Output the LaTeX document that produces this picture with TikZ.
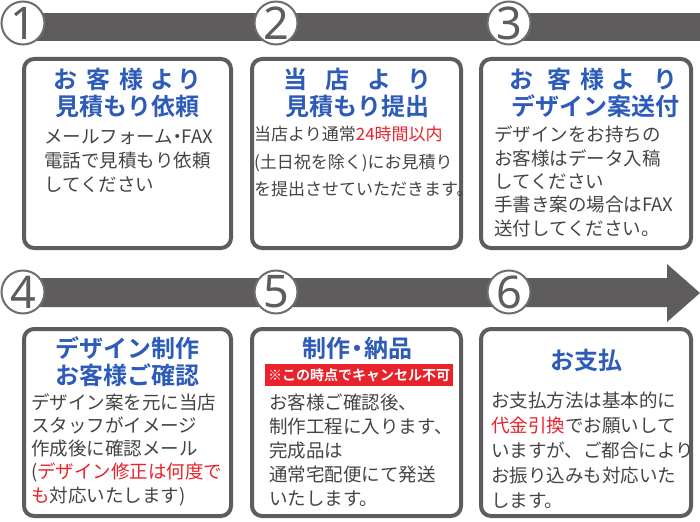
\documentclass[tikz,border=0pt]{standalone}
\usepackage{fontspec}
\setmainfont{Noto Sans CJK JP}[BoldFont={Noto Sans CJK JP Bold}]
\newfontfamily\numfont{Noto Sans}
\definecolor{barg}{HTML}{5E5C5D}
\definecolor{ttlblue}{HTML}{2D5BB9}
\definecolor{txtg}{HTML}{444444}
\definecolor{redc}{HTML}{E8232B}
\newcommand{\ndot}{\kern-5pt・\kern-5pt}
\tikzset{
  stepbox/.style={draw=barg, line width=4pt, rounded corners=10pt, fill=white, inner sep=0pt},
  numc/.style={circle, draw=barg!90, line width=2pt, fill=white, minimum size=43pt, inner sep=0pt,
    font=\numfont\fontsize{45}{45}\selectfont, text=barg},
  ttl/.style={font=\bfseries\fontsize{24}{24}\selectfont, text=ttlblue, inner sep=0pt, anchor=base},
  body/.style={font=\fontsize{18.5}{18.5}\selectfont, text=txtg, inner sep=0pt, anchor=base west},
  bodys/.style={font=\fontsize{17}{17}\selectfont, text=txtg, inner sep=0pt, anchor=base west}
}
\begin{document}
\begin{tikzpicture}[x=1pt,y=-1pt]
\useasboundingbox (0,0) rectangle (700,521);
\fill[white] (0,0) rectangle (700,521);
% bars
\fill[barg] (23,13) rectangle (700,41);
\fill[barg] (23,278) -- (667,278) -- (667,264) -- (700,293) -- (667,322) -- (667,307) -- (23,307) -- cycle;
% number circles
\node[numc] (n1) at (23,23) {1};
\node[numc] (n2) at (276,23) {2};
\node[numc] (n3) at (509,23) {3};
\node[numc] (n4) at (23,292) {4};
\node[numc] (n5) at (276,292) {5};
\node[numc] (n6) at (509,292) {6};
% boxes
\node[stepbox, minimum width=207pt, minimum height=189pt] (box1) at (127.5,153.5) {};
\node[stepbox, minimum width=209pt, minimum height=189pt] (box2) at (356.5,153.5) {};
\node[stepbox, minimum width=210pt, minimum height=189pt] (box3) at (586,153.5) {};
\node[stepbox, minimum width=207pt, minimum height=187pt] (box4) at (127.5,422.5) {};
\node[stepbox, minimum width=209pt, minimum height=187pt] (box5) at (356.5,422.5) {};
\node[stepbox, minimum width=210pt, minimum height=187pt] (box6) at (586,422.5) {};
% titles
\node[ttl] (t1a) at (127.5,89) {お\hspace{9pt}客\hspace{9pt}様\hspace{8pt}よ\hspace{3pt}り};
\node[ttl] (t1b) at (127.5,116) {見積もり依頼};
\node[ttl] (t2a) at (357.5,89) {当\hspace{18pt}店\hspace{18pt}よ\hspace{16pt}り};
\node[ttl] (t2b) at (357.5,116) {見積もり提出};
\node[ttl] (t3a) at (593,89) {お\hspace{14pt}客\hspace{9pt}様\hspace{8pt}よ\hspace{17pt}り};
\node[ttl] (t3b) at (595,116) {デザイン案送付};
\node[ttl] (t4a) at (127.5,357) {デザイン制作};
\node[ttl] (t4b) at (127.5,384) {お客様ご確認};
\node[ttl] (t5a) at (357.5,357) {制作\ndot 納品};
\node[ttl] (t6a) at (586,369) {お支払};
% cancel label
\node[fill=redc, minimum width=188pt, minimum height=22pt, inner sep=0pt, text=white,
  font=\bfseries\fontsize{14}{14}\selectfont] (cancel) at (359,375) {※この時点でキャンセル不可};
% bodies
\foreach \t [count=\i] in {メールフォーム\ndot FAX, 電話で見積もり依頼, してください}
  \node[body] (b1-\i) at ({44},{144+24*(\i-1)}) {\t};
\foreach \t [count=\i] in {{当店より通常\textcolor{redc}{24時間以内}}, (土日祝を除く)にお見積り, を提出させていただきます。}
  \node[bodys] (b2-\i) at ({254},{141+27.5*(\i-1)}) {\t};
\foreach \t [count=\i] in {デザインをお持ちの, お客様はデータ入稿, してください, 手書き案の場合はFAX, 送付してください。}
  \node[body] (b3-\i) at ({494},{142+23.3*(\i-1)}) {\t};
\foreach \t [count=\i] in {デザイン案を元に当店, スタッフがイメージ, 作成後に確認メール, {(\textcolor{redc}{デザイン修正は何度で}}, {\textcolor{redc}{も}対応いたします)}}
  \node[body] (b4-\i) at ({31},{409+23.3*(\i-1)}) {\t};
\foreach \t [count=\i] in {お客様ご確認後、, 制作工程に入ります、, 完成品は, 通常宅配便にて発送, いたします。}
  \node[body] (b5-\i) at ({269},{409+24*(\i-1)}) {\t};
\foreach \t [count=\i] in {お支払方法は基本的に, {\textcolor{redc}{代金引換}でお願いして}, いますが、ご都合により, お振り込みも対応いた, します。}
  \node[body] (b6-\i) at ({491},{407+25*(\i-1)}) {\t};
\end{tikzpicture}
\end{document}
